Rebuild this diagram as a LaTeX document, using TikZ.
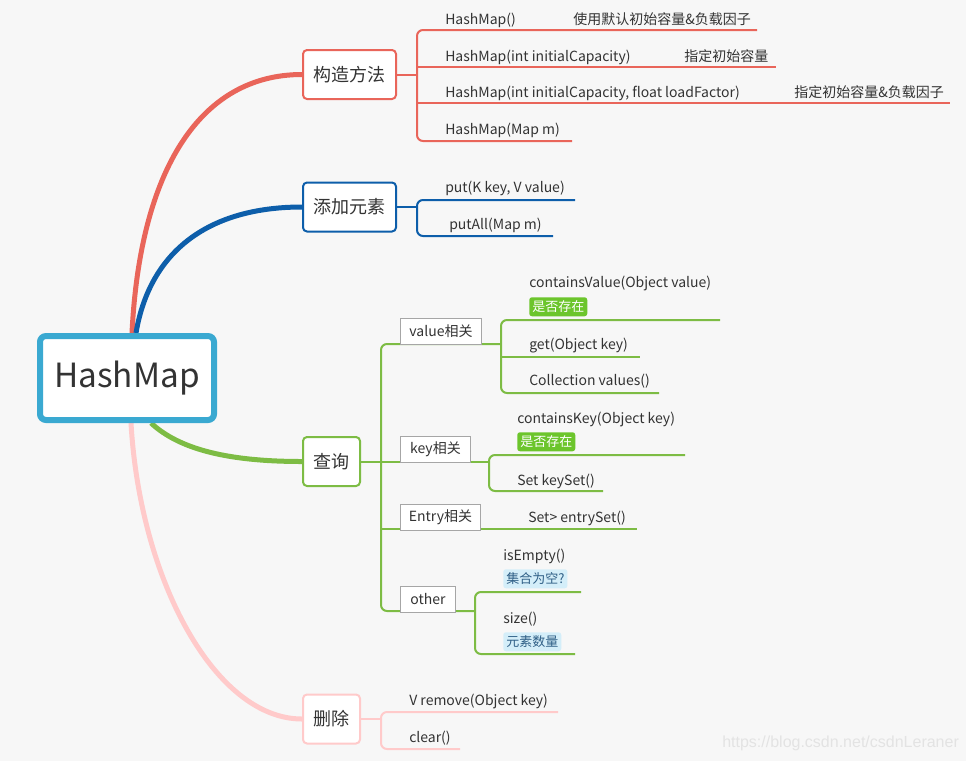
\documentclass[tikz,border=0pt]{standalone}
\usepackage{fontspec}
\setmainfont{Noto Sans CJK SC}
\newfontfamily\markfont{Liberation Sans}
\usetikzlibrary{calc,backgrounds}

\definecolor{bgcol}{HTML}{F7F7F7}
\definecolor{rootblue}{HTML}{3AA9D1}
\definecolor{ctorred}{HTML}{E9655A}
\definecolor{addblue}{HTML}{0D5EAA}
\definecolor{querygreen}{HTML}{7DBC44}
\definecolor{delpink}{HTML}{FFCACA}
\definecolor{inkgrey}{HTML}{333333}
\definecolor{boxgrey}{HTML}{A6A6A6}
\definecolor{taggreen}{HTML}{6CC52C}
\definecolor{tagblue}{HTML}{D4EEF9}
\definecolor{tagink}{HTML}{2F5F86}
\definecolor{markgrey}{HTML}{E3E3E3}

\tikzset{
  rootbox/.style={draw=rootblue, line width=4.5pt, rounded corners=4.5pt, fill=white,
    minimum width=130.5pt, minimum height=63pt, text=inkgrey, font=\fontsize{25}{26}\selectfont},
  topicbox/.style={draw=#1, line width=1.5pt, rounded corners=3pt, fill=white,
    minimum height=36.75pt, text=inkgrey, font=\fontsize{13.5}{14}\selectfont},
  subbox/.style={draw=boxgrey, line width=0.75pt, fill=white, anchor=south west,
    minimum height=19.5pt, inner xsep=0pt, text=inkgrey, font=\fontsize{10.5}{12}\selectfont},
  leaf/.style={anchor=base west, inner sep=0pt, text=inkgrey, font=\fontsize{10.5}{12}\selectfont},
  note/.style={leaf, font=\fontsize{10.5}{12}\selectfont},
  tag/.style={anchor=north west, rounded corners=2pt, fill=#1, inner xsep=2.25pt, inner ysep=0pt,
    minimum height=14.25pt, font=\fontsize{9.75}{10}\selectfont},
  branch/.style={draw=#1, line width=3.75pt},
  twig/.style={draw=#1, line width=1.5pt, rounded corners=4.5pt}
}

\begin{document}
\begin{tikzpicture}[x=0.75pt, y=-0.75pt]
  % main topic and the four branches
  \node[rootbox] (root) at (127,378) {HashMap};
  \node[topicbox=ctorred, minimum width=69.75pt] (ctor) at (349.5,74.5) {构造方法};
  \node[topicbox=addblue, minimum width=69.75pt] (add) at (349.5,207) {添加元素};
  \node[topicbox=querygreen, minimum width=42.75pt] (query) at (331.5,461.5) {查询};
  \node[topicbox=delpink, minimum width=42.75pt] (del) at (331.5,719) {删除};

  % curves from the main topic, under the boxes
  \begin{pgfonlayer}{background}
    \fill[bgcol] (0,0) rectangle (966,761);
    \draw[branch=ctorred] ($(root.north)+(5,0)$) .. controls (140,170) and (200,74.5) .. (ctor.west);
    \draw[branch=addblue] ($(root.north)+(9,0)$) .. controls (150,250) and (210,207) .. (add.west);
    \draw[branch=querygreen] ($(root.south)+(24,0)$) .. controls (180,450) and (230,461.5) .. (query.west);
    \draw[branch=delpink] ($(root.south)+(4,0)$) .. controls (140,580) and (215,719) .. (del.west);
  \end{pgfonlayer}

  % 构造方法
  \coordinate (ctorfork) at (417,74.5);
  \coordinate (c1end) at (757,30);
  \coordinate (c2a) at (417,67);
  \coordinate (c2end) at (776,67);
  \coordinate (c3a) at (417,103);
  \coordinate (c3end) at (950,103);
  \coordinate (c4end) at (572,141);
  \draw[twig=ctorred] (ctor.east) -- (ctorfork);
  \draw[twig=ctorred] (c1end) -- (417,30) -- (417,141) -- (c4end);
  \draw[twig=ctorred] (c2a) -- (c2end);
  \draw[twig=ctorred] (c3a) -- (c3end);
  \node[leaf] (c1) at (445,24) {HashMap()};
  \node[note] (c1n) at (573,24) {使用默认初始容量\&负载因子};
  \node[leaf] (c2) at (445,61) {HashMap(int initialCapacity)};
  \node[note] (c2n) at (684,61) {指定初始容量};
  \node[leaf] (c3) at (445,97) {HashMap(int initialCapacity, float loadFactor)};
  \node[note] (c3n) at (794,97) {指定初始容量\&负载因子};
  \node[leaf] (c4) at (445,134) {HashMap(Map m)};

  % 添加元素
  \coordinate (addfork) at (417,207);
  \coordinate (a1end) at (575,200);
  \coordinate (a2end) at (553,236);
  \draw[twig=addblue] (add.east) -- (addfork);
  \draw[twig=addblue] (a1end) -- (417,200) -- (417,236) -- (a2end);
  \node[leaf] (a1) at (445,192) {put(K key, V value)};
  \node[leaf] (a2) at (449,229) {putAll(Map m)};

  % 查询
  \coordinate (queryfork) at (381,461.5);
  \coordinate (vfork) at (501,344);
  \coordinate (kfork) at (489,462);
  \coordinate (eend) at (637,529);
  \coordinate (ofork) at (475,611);
  \draw[twig=querygreen] (query.east) -- (queryfork);
  \draw[twig=querygreen] (vfork) -- (381,344) -- (381,611) -- (ofork);
  \draw[twig=querygreen] (queryfork |- kfork) -- (kfork);
  \draw[twig=querygreen] (queryfork |- eend) -- (eend);

  \coordinate (v1end) at (720,320);
  \coordinate (v2a) at (501,357);
  \coordinate (v2end) at (640,357);
  \coordinate (v3end) at (659,393);
  \draw[twig=querygreen] (v1end) -- (501,320) -- (501,393) -- (v3end);
  \draw[twig=querygreen] (v2a) -- (v2end);

  \coordinate (k1end) at (685,455);
  \coordinate (k2end) at (603,491);
  \draw[twig=querygreen] (k1end) -- (489,455) -- (489,491) -- (k2end);

  \coordinate (o1end) at (581,592);
  \coordinate (o2end) at (575,654);
  \draw[twig=querygreen] (o1end) -- (475,592) -- (475,654) -- (o2end);

  \node[subbox, minimum width=60.75pt] (vbox) at (400,345) {value相关};
  \node[subbox, minimum width=52.5pt] (kbox) at (400,463) {key相关};
  \node[subbox, minimum width=60pt] (ebox) at (400,531) {Entry相关};
  \node[subbox, minimum width=41.25pt] (obox) at (400,612.5) {other};

  \node[leaf] (v1) at (529,287) {containsValue(Object value)};
  \node[tag=taggreen, text=white] (v1t) at (529,297) {是否存在};
  \node[leaf] (v2) at (529,349) {get(Object key)};
  \node[leaf] (v3) at (529,385) {Collection values()};

  \node[leaf] (k1) at (517,423) {containsKey(Object key)};
  \node[tag=taggreen, text=white] (k1t) at (517,432) {是否存在};
  \node[leaf] (k2) at (517,485) {Set keySet()};

  \node[leaf] (e1) at (528,522) {Set> entrySet()};

  \node[leaf] (o1) at (503,560) {isEmpty()};
  \node[tag=tagblue, text=tagink] (o1t) at (503,569) {集合为空?};
  \node[leaf] (o2) at (503,623) {size()};
  \node[tag=tagblue, text=tagink] (o2t) at (503,632) {元素数量};

  % 删除
  \coordinate (delfork) at (381,719);
  \coordinate (d1end) at (558,712);
  \coordinate (d2end) at (460,749);
  \draw[twig=delpink] (del.east) -- (delfork);
  \draw[twig=delpink] (d1end) -- (381,712) -- (381,749) -- (d2end);
  \node[leaf] (d1) at (409,705) {V remove(Object key)};
  \node[leaf] (d2) at (409,742) {clear()};

  \node[anchor=base west, inner sep=0pt, text=markgrey, font=\markfont\fontsize{12}{13}\selectfont]
    (mark) at (722,747) {https://blog.csdn.net/csdnLeraner};
\end{tikzpicture}
\end{document}
